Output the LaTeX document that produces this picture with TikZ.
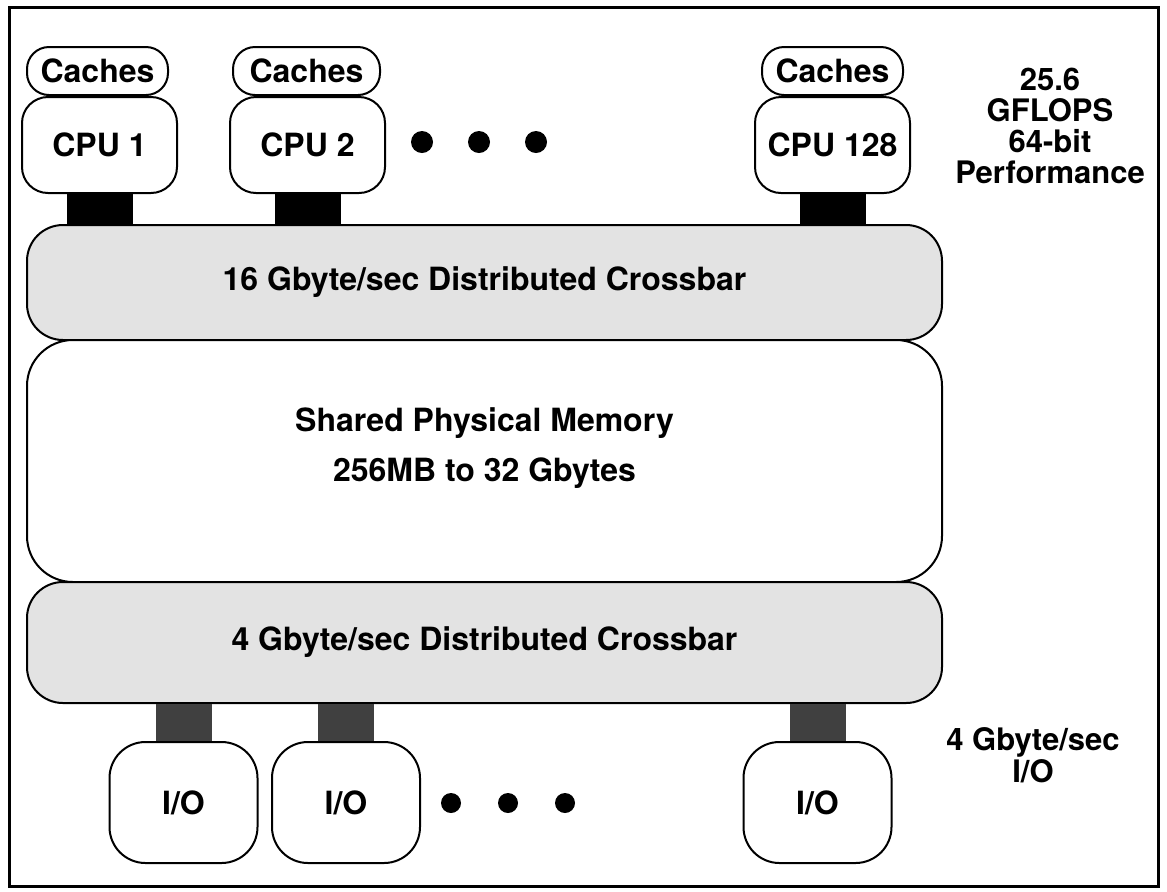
\documentclass[tikz,border=0pt]{standalone}
\usepackage{fontspec}
\setmainfont{TeX Gyre Heros}
\usetikzlibrary{positioning}

\newcommand\diagfont{\fontsize{16}{19}\selectfont\bfseries}
\newcommand\notefont{\fontsize{15.5}{15.4}\selectfont\bfseries}

\tikzset{
  box/.style={draw, line width=1pt, fill=white, inner sep=0pt, align=center, font=\diagfont},
  cachebox/.style={box, minimum width=72pt, minimum height=24pt, rounded corners=11pt},
  cpubox/.style={box, minimum width=77.5pt, minimum height=48pt, rounded corners=13pt},
  iobox/.style={box, minimum width=74pt, minimum height=60.5pt, rounded corners=18pt},
  xbar/.style={box, fill=black!11, minimum width=457.5pt, rounded corners=18pt},
  membox/.style={box, minimum width=457.5pt, minimum height=121pt, rounded corners=23pt},
  cpulink/.style={line width=33pt, black},
  iolink/.style={line width=28pt, black!75},
  note/.style={align=center, font=\notefont}
}

\begin{document}
\begin{tikzpicture}[x=0.5pt, y=-0.5pt]
  \useasboundingbox (0,0) rectangle (1167,891);
  \draw[line width=1.5pt] (9,7) rectangle (1158,886);

  % processors with their caches
  \node[cpubox] (cpu1) at (99.5,145) {CPU 1};
  \node[cachebox, minimum width=70.5pt] (cache1) at (97.5,71) {Caches};
  \node[cpubox] (cpu2) at (307.5,145) {CPU 2};
  \node[cachebox, minimum width=73.5pt] (cache2) at (306.5,71) {Caches};
  \node[cpubox] (cpu128) at (832.5,145) {CPU 128};
  \node[cachebox, minimum width=70.5pt] (cache128) at (832.5,71) {Caches};
  \foreach \x in {422,479,536}
    \fill (\x,142) circle (5.5pt);

  % crossbars and memory
  \node[xbar, minimum height=57.5pt] (xbarhi) at (484.5,282.5) {16 Gbyte/sec Distributed Crossbar};
  \node[membox] (mem) at (484.5,461) {};
  \node[font=\diagfont, align=center] (memtxt) at (484.5,448) {Shared Physical Memory\\[6pt]256MB to 32 Gbytes};
  \node[xbar, minimum height=60.5pt] (xbarlo) at (484.5,642.5) {4 Gbyte/sec Distributed Crossbar};

  % I/O units
  \node[iobox] (io1) at (183.5,802.5) {I/O};
  \node[iobox] (io2) at (346,802.5) {I/O};
  \node[iobox] (io3) at (817.5,802.5) {I/O};
  \foreach \x in {451,508,565}
    \fill (\x,803) circle (5pt);

  % links
  \draw[cpulink] (cpu1.south) -- (cpu1.south |- xbarhi.north);
  \draw[cpulink] (cpu2.south) -- (cpu2.south |- xbarhi.north);
  \draw[cpulink] (cpu128.south) -- (cpu128.south |- xbarhi.north);
  \draw[iolink] (io1.north) -- (io1.north |- xbarlo.south);
  \draw[iolink] (io2.north) -- (io2.north |- xbarlo.south);
  \draw[iolink] (io3.north) -- (io3.north |- xbarlo.south);

  % side notes
  \node[note] (perf) at (1050,126) {25.6\\GFLOPS\\64-bit\\Performance};
  \node[note, font=\fontsize{15.5}{13}\selectfont\bfseries] (iorate) at (1033,755) {4 Gbyte/sec\\I/O};
\end{tikzpicture}
\end{document}
